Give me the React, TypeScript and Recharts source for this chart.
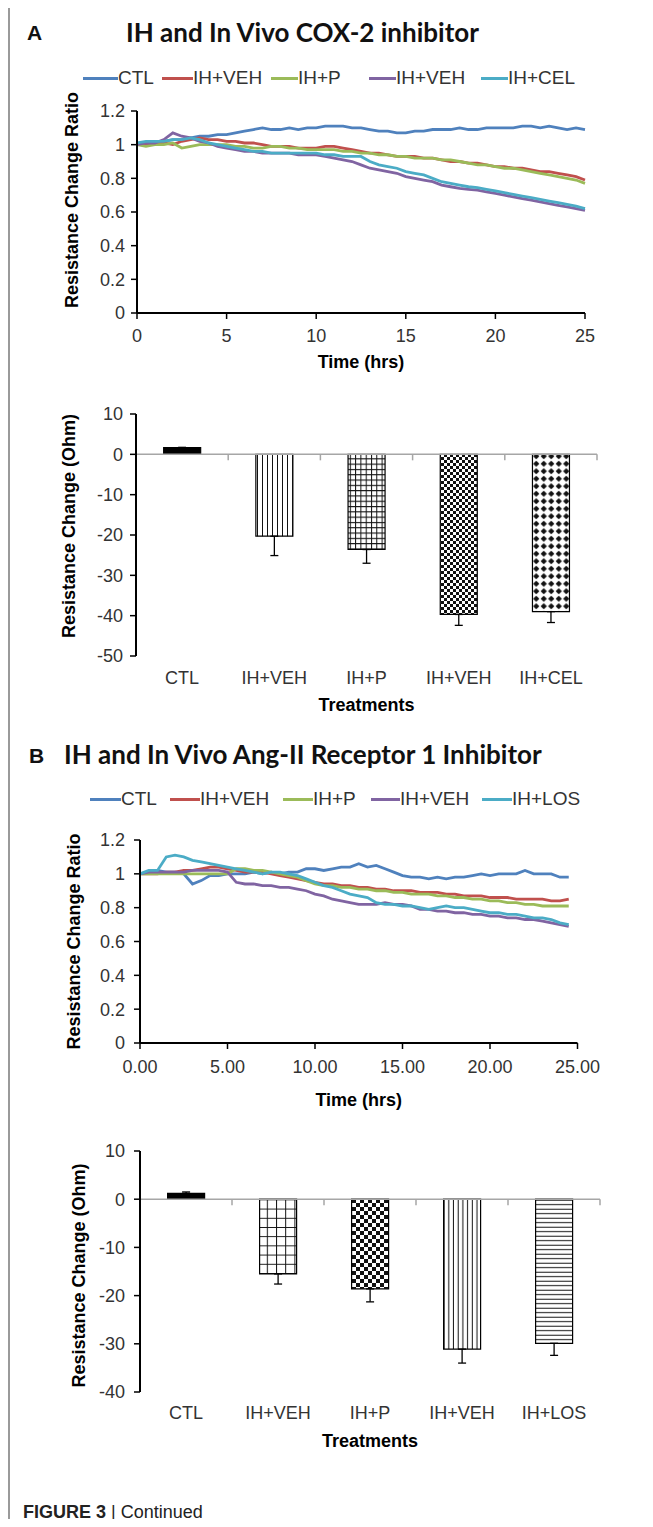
import React from 'react'
import { LineChart, Line, BarChart, Bar, Cell, XAxis, YAxis, ErrorBar, ReferenceLine } from 'recharts'

// ---- legend / series names ----
const namesA = ['CTL', 'IH+VEH', 'IH+P', 'IH+VEH', 'IH+CEL']
const namesB = ['CTL', 'IH+VEH', 'IH+P', 'IH+VEH', 'IH+LOS']
const lineColors = ['#4F81BD', '#C0504D', '#9BBB59', '#8064A2', '#4BACC6']

// ---- panel A time course (ratio) ----
const timeA = [0, 0.5, 1, 1.5, 2, 2.5, 3, 3.5, 4, 4.5, 5, 5.5, 6, 6.5, 7, 7.5, 8, 8.5, 9, 9.5, 10, 10.5, 11, 11.5, 12, 12.5, 13, 13.5, 14, 14.5, 15, 15.5, 16, 16.5, 17, 17.5, 18, 18.5, 19, 19.5, 20, 20.5, 21, 21.5, 22, 22.5, 23, 23.5, 24, 24.5, 25]
const ctlA = [1.00, 1.01, 1.02, 1.02, 1.03, 1.03, 1.04, 1.05, 1.05, 1.06, 1.06, 1.07, 1.08, 1.09, 1.10, 1.09, 1.09, 1.10, 1.09, 1.10, 1.10, 1.11, 1.11, 1.11, 1.10, 1.10, 1.09, 1.08, 1.08, 1.07, 1.07, 1.08, 1.08, 1.09, 1.09, 1.09, 1.10, 1.09, 1.09, 1.10, 1.10, 1.10, 1.10, 1.11, 1.11, 1.10, 1.11, 1.10, 1.09, 1.10, 1.09]
const vehA = [1.00, 1.00, 1.01, 1.01, 1.00, 1.02, 1.03, 1.04, 1.03, 1.03, 1.02, 1.02, 1.01, 1.01, 1.00, 0.99, 0.99, 0.99, 0.98, 0.98, 0.98, 0.99, 0.99, 0.98, 0.97, 0.96, 0.95, 0.95, 0.94, 0.93, 0.93, 0.93, 0.92, 0.92, 0.91, 0.90, 0.90, 0.89, 0.89, 0.88, 0.87, 0.87, 0.86, 0.86, 0.85, 0.84, 0.84, 0.83, 0.82, 0.81, 0.79]
const pA = [1.00, 0.99, 1.00, 1.00, 1.01, 0.98, 0.99, 1.00, 1.00, 1.00, 1.00, 0.99, 0.99, 0.98, 0.98, 0.99, 0.99, 0.98, 0.98, 0.97, 0.97, 0.97, 0.97, 0.96, 0.96, 0.95, 0.95, 0.94, 0.94, 0.93, 0.93, 0.92, 0.92, 0.92, 0.91, 0.91, 0.90, 0.89, 0.88, 0.88, 0.87, 0.86, 0.86, 0.85, 0.84, 0.83, 0.82, 0.81, 0.80, 0.79, 0.77]
const veh2A = [1.00, 1.01, 1.01, 1.03, 1.07, 1.05, 1.04, 1.02, 1.01, 0.99, 0.98, 0.97, 0.96, 0.96, 0.95, 0.95, 0.95, 0.95, 0.94, 0.94, 0.94, 0.93, 0.92, 0.91, 0.90, 0.88, 0.86, 0.85, 0.84, 0.83, 0.81, 0.80, 0.79, 0.78, 0.76, 0.75, 0.74, 0.735, 0.73, 0.72, 0.71, 0.70, 0.69, 0.68, 0.67, 0.66, 0.65, 0.64, 0.63, 0.62, 0.61]
const celA = [1.01, 1.02, 1.02, 1.02, 1.03, 1.03, 1.04, 1.03, 1.01, 1.00, 0.99, 0.98, 0.97, 0.96, 0.96, 0.95, 0.95, 0.95, 0.95, 0.95, 0.95, 0.94, 0.94, 0.93, 0.93, 0.93, 0.90, 0.88, 0.87, 0.86, 0.84, 0.83, 0.82, 0.80, 0.78, 0.77, 0.76, 0.75, 0.745, 0.735, 0.725, 0.715, 0.705, 0.695, 0.685, 0.675, 0.665, 0.655, 0.645, 0.635, 0.62]

// ---- panel B time course (ratio) ----
const timeB = [0, 0.5, 1, 1.5, 2, 2.5, 3, 3.5, 4, 4.5, 5, 5.5, 6, 6.5, 7, 7.5, 8, 8.5, 9, 9.5, 10, 10.5, 11, 11.5, 12, 12.5, 13, 13.5, 14, 14.5, 15, 15.5, 16, 16.5, 17, 17.5, 18, 18.5, 19, 19.5, 20, 20.5, 21, 21.5, 22, 22.5, 23, 23.5, 24, 24.5]
const ctlB = [1.00, 1.01, 1.02, 1.01, 1.01, 1.00, 0.94, 0.96, 0.99, 0.99, 1.00, 1.00, 1.00, 1.01, 1.00, 1.01, 1.00, 1.01, 1.01, 1.03, 1.03, 1.02, 1.03, 1.04, 1.04, 1.06, 1.04, 1.05, 1.03, 1.01, 0.99, 0.98, 0.98, 0.97, 0.98, 0.97, 0.98, 0.98, 0.99, 1.00, 0.99, 1.00, 1.00, 1.00, 1.02, 1.00, 1.00, 1.00, 0.98, 0.98]
const vehB = [1.00, 1.00, 1.00, 1.01, 1.01, 1.02, 1.02, 1.03, 1.04, 1.04, 1.03, 1.02, 1.01, 1.01, 1.01, 1.00, 0.99, 0.98, 0.97, 0.96, 0.95, 0.94, 0.94, 0.93, 0.93, 0.92, 0.92, 0.91, 0.91, 0.90, 0.90, 0.90, 0.89, 0.89, 0.89, 0.88, 0.88, 0.87, 0.87, 0.87, 0.86, 0.86, 0.86, 0.85, 0.85, 0.85, 0.85, 0.84, 0.84, 0.85]
const pB = [1.00, 1.00, 1.00, 1.00, 1.00, 1.00, 1.00, 1.00, 1.00, 1.00, 1.00, 1.03, 1.03, 1.02, 1.02, 1.01, 1.00, 0.99, 0.98, 0.96, 0.94, 0.93, 0.93, 0.92, 0.92, 0.91, 0.91, 0.90, 0.90, 0.89, 0.89, 0.88, 0.88, 0.88, 0.87, 0.87, 0.86, 0.86, 0.85, 0.85, 0.84, 0.84, 0.83, 0.83, 0.82, 0.82, 0.81, 0.81, 0.81, 0.81]
const veh2B = [1.00, 1.01, 1.01, 1.01, 1.01, 1.01, 1.02, 1.02, 1.02, 1.02, 1.01, 0.95, 0.94, 0.94, 0.93, 0.93, 0.92, 0.92, 0.91, 0.90, 0.88, 0.87, 0.85, 0.84, 0.83, 0.82, 0.82, 0.82, 0.83, 0.82, 0.82, 0.81, 0.79, 0.79, 0.78, 0.78, 0.77, 0.77, 0.76, 0.76, 0.75, 0.75, 0.74, 0.74, 0.73, 0.73, 0.72, 0.71, 0.70, 0.69]
const losB = [1.00, 1.02, 1.02, 1.10, 1.11, 1.10, 1.08, 1.07, 1.06, 1.05, 1.04, 1.03, 1.02, 1.01, 1.00, 1.01, 1.01, 1.00, 0.99, 0.97, 0.95, 0.93, 0.92, 0.90, 0.88, 0.87, 0.86, 0.83, 0.82, 0.82, 0.81, 0.81, 0.80, 0.79, 0.80, 0.81, 0.80, 0.80, 0.79, 0.78, 0.77, 0.77, 0.76, 0.76, 0.75, 0.74, 0.74, 0.73, 0.71, 0.70]

const ratioTicks = [0, 0.2, 0.4, 0.6, 0.8, 1, 1.2]
const hourTicks = [0, 5, 10, 15, 20, 25]

// ---- bar panels (Ohm) ----
const barValsA = [1.7, -20.3, -23.6, -39.7, -39.0]
const barErrDownA = [0, 4.8, 3.4, 2.7, 2.7]
const barErrUpA = [0, 0, 0, 0, 0]
const ohmTicksA = [10, 0, -10, -20, -30, -40, -50]

const barValsB = [1.2, -15.5, -18.6, -31.1, -29.9]
const barErrDownB = [0, 2.1, 2.7, 2.9, 2.5]
const barErrUpB = [0.3, 0, 0, 0, 0]
const ohmTicksB = [10, 0, -10, -20, -30, -40]

const fillsA = ['#000', 'url(#pA-vl)', 'url(#pA-grid)', 'url(#pA-chk)', 'url(#pA-dia)']
const fillsB = ['#000', 'url(#pB-grid)', 'url(#pB-chk)', 'url(#pB-vl)', 'url(#pB-hl)']

const lineRowsA = timeA.map((t, i) => ({ t, s0: ctlA[i], s1: vehA[i], s2: pA[i], s3: veh2A[i], s4: celA[i] }))
const lineRowsB = timeB.map((t, i) => ({ t, s0: ctlB[i], s1: vehB[i], s2: pB[i], s3: veh2B[i], s4: losB[i] }))
const barRowsA = namesA.map((name, i) => ({ name, value: barValsA[i], err: [barErrDownA[i], barErrUpA[i]] }))
const barRowsB = namesB.map((name, i) => ({ name, value: barValsB[i], err: [barErrDownB[i], barErrUpB[i]] }))

const TICK = { fontSize: 18, fill: '#333' }
const AXIS_TITLE = { fontSize: 18, fontWeight: 700, fill: '#000' }

function Legend5({ names, lineX, textX, top }: { names: string[]; lineX: number[]; textX: number[]; top: number }) {
  return (
    <>
      {names.map((n, i) => (
        <React.Fragment key={i}>
          <div style={{ position: 'absolute', left: lineX[i], top: top - 1.5, width: textX[i] - lineX[i], height: 3, background: lineColors[i] }} />
          <div style={{ position: 'absolute', left: textX[i], top: top - 11, fontSize: 19, lineHeight: '22px', color: '#333', whiteSpace: 'nowrap' }}>{n}</div>
        </React.Fragment>
      ))}
    </>
  )
}

// gray zero line with tick marks at category boundaries (Excel style)
const zeroAxis = (count: number) => (props: any) => {
  const { x1, x2, y1 } = props
  const step = (x2 - x1) / count
  const marks = []
  for (let k = 1; k <= count; k++) {
    const x = x1 + step * k
    marks.push(<line key={k} x1={x} x2={x} y1={y1} y2={y1 + 6} stroke="#A6A6A6" strokeWidth={1.5} />)
  }
  return (
    <g>
      <line x1={x1} x2={x2} y1={y1} y2={y1} stroke="#A6A6A6" strokeWidth={1.5} />
      {marks}
    </g>
  )
}

function TimeChart({ rows, top, height, margin, yWidth, xFmt, yLabelDy, xTickMargin, yTickMargin, xLabelOffset }: any) {
  return (
    <div style={{ position: 'absolute', left: 0, top }}>
      <LineChart width={653} height={height} data={rows} margin={margin}>
        <XAxis
          type="number"
          dataKey="t"
          domain={[0, 25]}
          ticks={hourTicks}
          tickFormatter={xFmt}
          height={30}
          tickSize={6}
          tickMargin={xTickMargin}
          tick={TICK}
          axisLine={{ stroke: '#000', strokeWidth: 2 }}
          tickLine={{ stroke: '#000', strokeWidth: 1.5 }}
          label={{ value: 'Time (hrs)', position: 'bottom', offset: xLabelOffset, style: AXIS_TITLE }}
        />
        <YAxis
          type="number"
          domain={[0, 1.2]}
          ticks={ratioTicks}
          width={yWidth}
          tickSize={6}
          tickMargin={yTickMargin}
          tick={TICK}
          axisLine={{ stroke: '#000', strokeWidth: 2 }}
          tickLine={{ stroke: '#000', strokeWidth: 1.5 }}
          label={{ value: 'Resistance Change Ratio', angle: -90, position: 'center', dy: yLabelDy, style: AXIS_TITLE }}
        />
        {['s0', 's1', 's2', 's3', 's4'].map((k, i) => (
          <Line key={k} type="linear" dataKey={k} stroke={lineColors[i]} strokeWidth={2.8} dot={false} isAnimationActive={false} />
        ))}
      </LineChart>
    </div>
  )
}

function OhmChart({ rows, fills, top, height, margin, yWidth, domain, ticks, yLabelDy, xTickMargin, yTickMargin, defs }: any) {
  return (
    <div style={{ position: 'absolute', left: 0, top }}>
      <BarChart width={653} height={height} data={rows} margin={margin} barCategoryGap="30%">
        <defs>{defs}</defs>
        <XAxis
          dataKey="name"
          height={30}
          tickSize={6}
          tickMargin={xTickMargin}
          tick={TICK}
          axisLine={false}
          tickLine={false}
          label={{ value: 'Treatments', position: 'bottom', offset: 12, style: AXIS_TITLE }}
        />
        <YAxis
          type="number"
          domain={domain}
          ticks={ticks}
          width={yWidth}
          tickSize={6}
          tickMargin={yTickMargin}
          tick={TICK}
          axisLine={{ stroke: '#000', strokeWidth: 2 }}
          tickLine={{ stroke: '#000', strokeWidth: 1.5 }}
          label={{ value: 'Resistance Change (Ohm)', angle: -90, position: 'center', dy: yLabelDy, style: AXIS_TITLE }}
        />
        <ReferenceLine y={0} shape={zeroAxis(rows.length)} />
        <Bar dataKey="value" stroke="#000" strokeWidth={1.2} isAnimationActive={false}>
          {rows.map((_: any, i: number) => (
            <Cell key={i} fill={fills[i]} />
          ))}
          <ErrorBar dataKey="err" width={4} stroke="#000" strokeWidth={1.3} />
        </Bar>
      </BarChart>
    </div>
  )
}

const patternsA = (
  <>
    <pattern id="pA-vl" patternUnits="userSpaceOnUse" width={5} height={10}>
      <rect width={5} height={10} fill="#fff" />
      <line x1={2.5} y1={0} x2={2.5} y2={10} stroke="#111" strokeWidth={1} />
    </pattern>
    <pattern id="pA-grid" patternUnits="userSpaceOnUse" width={5.3} height={5.3}>
      <rect width={5.3} height={5.3} fill="#fff" />
      <path d="M0.5 0 V5.3 M0 0.5 H5.3" stroke="#111" strokeWidth={1} />
    </pattern>
    <pattern id="pA-chk" patternUnits="userSpaceOnUse" width={6} height={6}>
      <rect width={6} height={6} fill="#fff" />
      <rect x={0} y={0} width={3} height={3} fill="#111" />
      <rect x={3} y={3} width={3} height={3} fill="#111" />
    </pattern>
    <pattern id="pA-dia" patternUnits="userSpaceOnUse" width={7.5} height={7.5}>
      <rect width={7.5} height={7.5} fill="#fff" />
      <polygon points="3.75,0.6 6.9,3.75 3.75,6.9 0.6,3.75" fill="#111" />
    </pattern>
  </>
)

const patternsB = (
  <>
    <pattern id="pB-grid" patternUnits="userSpaceOnUse" width={9.2} height={9.2}>
      <rect width={9.2} height={9.2} fill="#fff" />
      <path d="M0.5 0 V9.2 M0 0.5 H9.2" stroke="#111" strokeWidth={1} />
    </pattern>
    <pattern id="pB-chk" patternUnits="userSpaceOnUse" width={8} height={8}>
      <rect width={8} height={8} fill="#fff" />
      <rect x={0} y={0} width={4} height={4} fill="#111" />
      <rect x={4} y={4} width={4} height={4} fill="#111" />
    </pattern>
    <pattern id="pB-vl" patternUnits="userSpaceOnUse" width={4.7} height={10}>
      <rect width={4.7} height={10} fill="#fff" />
      <line x1={2.3} y1={0} x2={2.3} y2={10} stroke="#111" strokeWidth={1} />
    </pattern>
    <pattern id="pB-hl" patternUnits="userSpaceOnUse" width={10} height={4.5}>
      <rect width={10} height={4.5} fill="#fff" />
      <line x1={0} y1={2.2} x2={10} y2={2.2} stroke="#111" strokeWidth={1} />
    </pattern>
  </>
)

const titleStyle: React.CSSProperties = { position: 'absolute', fontFamily: 'Lato, "Open Sans", sans-serif', fontWeight: 700, fontSize: 26, lineHeight: '30px', color: '#111', whiteSpace: 'nowrap' }
const letterStyle: React.CSSProperties = { position: 'absolute', fontWeight: 700, fontSize: 21, lineHeight: '24px', color: '#111' }

export default function App() {
  return (
    <div style={{ position: 'relative', width: 653, height: 1527, margin: -8, background: '#fff', overflow: 'hidden', fontFamily: '"Liberation Sans", Arial, sans-serif' }}>
      {/* figure frame */}
      <div style={{ position: 'absolute', left: 8, top: 1, width: 645, height: 1.5, background: '#9a9a9a' }} />
      <div style={{ position: 'absolute', left: 8, top: 1, width: 1.5, height: 1526, background: '#9a9a9a' }} />

      <div style={{ ...letterStyle, left: 27, top: 21 }}>A</div>
      <div style={{ ...titleStyle, left: 126, top: 17 }}>IH and In Vivo COX-2 inhibitor</div>
      <Legend5 names={namesA} lineX={[83, 162, 271, 369, 481]} textX={[118, 193, 298, 396, 508]} top={78} />

      <TimeChart
        rows={lineRowsA}
        top={80}
        height={300}
        margin={{ top: 31, right: 68, bottom: 37, left: 7 }}
        yWidth={130}
        yLabelDy={-12}
        xTickMargin={10}
        yTickMargin={6}
        xLabelOffset={12}
        xFmt={(v: number) => String(v)}
      />

      <OhmChart
        rows={barRowsA}
        fills={fillsA}
        top={400}
        height={320}
        margin={{ top: 14, right: 56, bottom: 34, left: 2 }}
        yWidth={134}
        domain={[-50, 10]}
        ticks={ohmTicksA}
        yLabelDy={-9}
        xTickMargin={9.5}
        yTickMargin={7}
        defs={patternsA}
      />

      <div style={{ ...letterStyle, left: 29, top: 744 }}>B</div>
      <div style={{ ...titleStyle, left: 64, top: 739 }}>IH and In Vivo Ang-II Receptor 1 Inhibitor</div>
      <Legend5 names={namesB} lineX={[90, 170, 283, 371, 482]} textX={[121, 200, 313, 400, 512]} top={799} />

      <TimeChart
        rows={lineRowsB}
        top={820}
        height={295}
        margin={{ top: 20, right: 75.5, bottom: 42, left: 8 }}
        yWidth={132}
        yLabelDy={0}
        xTickMargin={11}
        yTickMargin={9}
        xLabelOffset={20}
        xFmt={(v: number) => v.toFixed(2)}
      />

      <OhmChart
        rows={barRowsB}
        fills={fillsB}
        top={1135}
        height={325}
        margin={{ top: 16, right: 53, bottom: 38, left: 18 }}
        yWidth={122}
        domain={[-40, 10]}
        ticks={ohmTicksB}
        yLabelDy={4}
        xTickMargin={8.5}
        yTickMargin={9}
        defs={patternsB}
      />

      <div style={{ position: 'absolute', left: 23, top: 1502, fontSize: 18, lineHeight: '20px', color: '#222', whiteSpace: 'nowrap' }}>
        <span style={{ fontWeight: 700 }}>FIGURE 3</span> | Continued
      </div>
    </div>
  )
}
